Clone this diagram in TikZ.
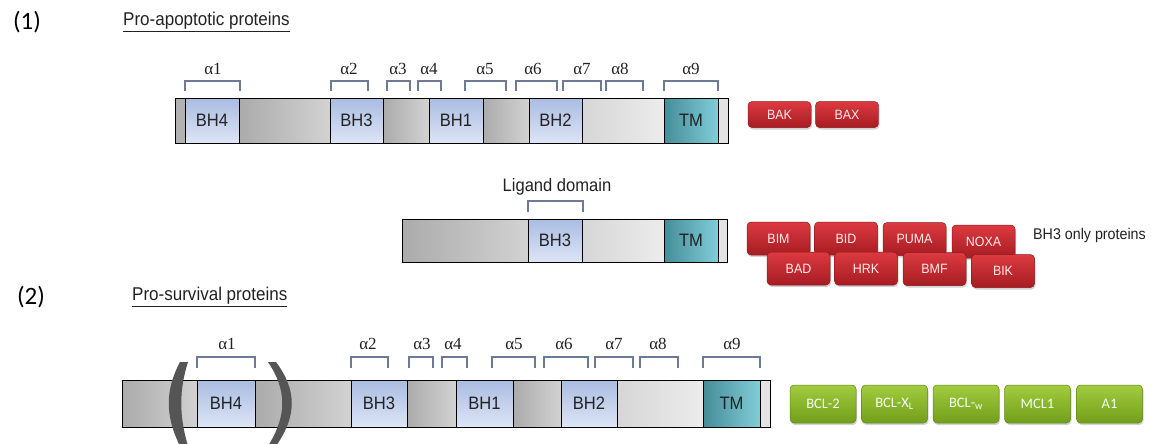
\documentclass[tikz,border=0pt]{standalone}
\usepackage{fontspec}
\setmainfont{Liberation Sans}
\newfontfamily\arl[FakeStretch=0.92]{Liberation Sans}
\newfontfamily\calf{Carlito}
\newfontfamily\tmsf{Liberation Serif}
\usetikzlibrary{shadows}
\definecolor{bhtop}{HTML}{A9BCE2}
\definecolor{bhbot}{HTML}{DDE5F6}
\definecolor{tmL}{HTML}{468D98}
\definecolor{tmR}{HTML}{80CDD8}
\definecolor{gdark}{HTML}{ABABAB}
\definecolor{glight}{HTML}{D2D2D2}
\definecolor{lgL}{HTML}{D6D6D6}
\definecolor{lgR}{HTML}{ECECEC}
\definecolor{brkc}{HTML}{6C7A95}
\definecolor{redT}{HTML}{DC3A40}
\definecolor{redB}{HTML}{A61C22}
\definecolor{grnT}{HTML}{A2CC3E}
\definecolor{grnB}{HTML}{729E1B}
\definecolor{txt}{HTML}{222222}
\definecolor{parc}{HTML}{555555}
\newcommand\lblfont{\arl\fontsize{18}{18}\selectfont}
\newcommand\alfont{\tmsf\fontsize{17}{17}\selectfont}
\newcommand\bracketat[4]{\draw[brk] (#1,#4) -- (#1,#3) -- (#2,#3) -- (#2,#4);}
\tikzset{
  seg/.style={draw=black, line width=0.9pt, inner sep=0pt, outer sep=0pt, anchor=west, font=\lblfont, text=txt},
  row1/.style={minimum height=45pt},
  row2/.style={minimum height=43pt},
  row3/.style={minimum height=47pt},
  dk/.style={seg, fill=gray!60},
  gs/.style={seg, left color=gdark, right color=glight},
  lg/.style={seg, left color=lgL, right color=lgR},
  bh/.style={seg, top color=bhtop, bottom color=bhbot},
  tm/.style={seg, left color=tmL, right color=tmR},
  st/.style={seg, fill=gray!22},
  brk/.style={draw=brkc, line width=1.3pt},
  alab/.style={font=\alfont, text=txt, inner sep=0pt},
  rbox/.style={rounded corners=4pt, top color=redT, bottom color=redB, draw=redB!85!black, line width=0.5pt,
    text=white!92!red, font=\arl\fontsize{13.5}{13.5}\selectfont, minimum width=63pt, minimum height=33pt, inner sep=0pt,
    drop shadow={opacity=0.35, shadow xshift=1pt, shadow yshift=-2pt}},
  gbox/.style={rounded corners=4pt, top color=grnT, bottom color=grnB, draw=grnB!85!black, line width=0.5pt,
    text=white!85!green!30, font=\calf\fontsize{14.5}{14.5}\selectfont, minimum width=66pt, minimum height=38pt, inner sep=0pt,
    drop shadow={opacity=0.35, shadow xshift=1pt, shadow yshift=-2pt}},
  paren/.style={fill=parc, draw=none},
}
\begin{document}
\begin{tikzpicture}[x=1pt, y=-1pt]
\useasboundingbox (0,0) rectangle (1151,444);
% titles
\node[font=\calf\fontsize{25}{25}\selectfont, text=black, inner sep=0pt] (n1) at (27,22) {(1)};
\node[font=\calf\fontsize{25}{25}\selectfont, text=black, inner sep=0pt] (n2) at (31,297) {(2)};
\node[font=\arl\fontsize{18.5}{18.5}\selectfont, text=txt, anchor=west, inner sep=0pt] (t1) at (123,22) {\underline{Pro-apoptotic proteins}};
\node[font=\arl\fontsize{18.5}{18.5}\selectfont, text=txt, anchor=west, inner sep=0pt] (t2) at (132,297) {\underline{Pro-survival proteins}};

% ---------- row 1 ----------
\node[dk, row1, minimum width=10pt] (r1a) at (175,120.5) {};
\node[bh, row1, minimum width=54pt] (r1b) at (185,120.5) {BH4};
\node[gs, row1, minimum width=91pt] (r1c) at (239,120.5) {};
\node[bh, row1, minimum width=53pt] (r1d) at (330,120.5) {BH3};
\node[gs, row1, minimum width=46pt] (r1e) at (383,120.5) {};
\node[bh, row1, minimum width=54pt] (r1f) at (429,120.5) {BH1};
\node[gs, row1, minimum width=46pt] (r1g) at (483,120.5) {};
\node[bh, row1, minimum width=53pt] (r1h) at (529,120.5) {BH2};
\node[lg, row1, minimum width=82pt] (r1i) at (582,120.5) {};
\node[tm, row1, minimum width=54pt] (r1j) at (664,120.5) {TM};
\node[st, row1, minimum width=10pt] (r1k) at (718,120.5) {};

\bracketat{185}{240}{81}{91}
\bracketat{331}{368}{81}{91}
\bracketat{387}{410}{81}{91}
\bracketat{418}{441}{81}{91}
\bracketat{465}{506}{81}{91}
\bracketat{516}{557}{81}{91}
\bracketat{563}{601}{81}{91}
\bracketat{606}{643}{81}{91}
\bracketat{664}{718}{81}{91}
\node[alab] (p1) at (213,69) {α1};
\node[alab] (p2) at (349,69) {α2};
\node[alab] (p3) at (398,69) {α3};
\node[alab] (p4) at (429,69) {α4};
\node[alab] (p5) at (485,69) {α5};
\node[alab] (p6) at (533,69) {α6};
\node[alab] (p7) at (582,69) {α7};
\node[alab] (p8) at (620,69) {α8};
\node[alab] (p9) at (691,69) {α9};

\node[rbox, minimum height=26pt] (bak) at (779.5,114.5) {BAK};
\node[rbox, minimum height=26pt] (bax) at (847,114.5) {BAX};

% ---------- row 2 ----------
\node[gs, row2, minimum width=126pt] (r2a) at (402,240.5) {};
\node[bh, row2, minimum width=54pt] (r2b) at (528,240.5) {BH3};
\node[lg, row2, minimum width=82pt] (r2c) at (582,240.5) {};
\node[tm, row2, minimum width=54pt] (r2d) at (664,240.5) {TM};
\node[st, row2, minimum width=9pt] (r2e) at (718,240.5) {};
\bracketat{528}{583}{201}{212}
\node[font=\arl\fontsize{18}{18}\selectfont, text=txt, inner sep=0pt] (lig) at (557,187) {Ligand domain};

\node[rbox] (bim) at (778.5,238.5) {BIM};
\node[rbox] (bid) at (846,238.5) {BID};
\node[rbox] (puma) at (914.5,239) {PUMA};
\node[rbox] (noxa) at (983.5,241.5) {NOXA};
\node[rbox] (bad) at (798.5,268.5) {BAD};
\node[rbox] (hrk) at (866,268.5) {HRK};
\node[rbox] (bmf) at (934.5,269) {BMF};
\node[rbox] (bik) at (1003,271) {BIK};
\node[font=\arl\fontsize{15.5}{15.5}\selectfont, text=txt, anchor=west, inner sep=0pt] (bh3only) at (1033,235) {BH3 only proteins};

% ---------- row 3 ----------
\node[gs, row3, minimum width=75pt] (r3a) at (122,403.5) {};
\node[bh, row3, minimum width=58pt] (r3b) at (197,403.5) {BH4};
\node[gs, row3, minimum width=96pt] (r3c) at (255,403.5) {};
\node[bh, row3, minimum width=56pt] (r3d) at (351,403.5) {BH3};
\node[gs, row3, minimum width=49pt] (r3e) at (407,403.5) {};
\node[bh, row3, minimum width=57pt] (r3f) at (456,403.5) {BH1};
\node[gs, row3, minimum width=48pt] (r3g) at (513,403.5) {};
\node[bh, row3, minimum width=56pt] (r3h) at (561,403.5) {BH2};
\node[lg, row3, minimum width=86pt] (r3i) at (617,403.5) {};
\node[tm, row3, minimum width=57pt] (r3j) at (703,403.5) {TM};
\node[st, row3, minimum width=10pt] (r3k) at (760,403.5) {};

\bracketat{197}{255}{357}{368}
\bracketat{351}{388}{357}{368}
\bracketat{409}{433}{357}{368}
\bracketat{442}{467}{357}{368}
\bracketat{492}{535}{357}{368}
\bracketat{544}{588}{357}{368}
\bracketat{595}{633}{357}{368}
\bracketat{640}{678}{357}{368}
\bracketat{703}{760}{357}{368}
\node[alab] (q1) at (227,344) {α1};
\node[alab] (q2) at (368,344) {α2};
\node[alab] (q3) at (422,344) {α3};
\node[alab] (q4) at (453,344) {α4};
\node[alab] (q5) at (514,344) {α5};
\node[alab] (q6) at (564,344) {α6};
\node[alab] (q7) at (614,344) {α7};
\node[alab] (q8) at (658,344) {α8};
\node[alab] (q9) at (732,344) {α9};

% parentheses
\fill[paren] (180,362) .. controls (165,390) and (165,416) .. (180,446) -- (188,446) .. controls (179,416) and (179,390) .. (188,362) -- cycle;
\fill[paren] (276,362) .. controls (297,390) and (297,416) .. (276,446) -- (268,446) .. controls (287,416) and (287,390) .. (268,362) -- cycle;

\node[gbox] (bcl2) at (823,404) {BCL-2};
\node[gbox] (bclxl) at (894.5,404) {BCL-X\textsubscript{L}};
\node[gbox] (bclw) at (966,404) {BCL-\textsubscript{w}};
\node[gbox] (mcl1) at (1037.5,404) {MCL1};
\node[gbox] (a1) at (1109.5,404) {A1};
\end{tikzpicture}
\end{document}
